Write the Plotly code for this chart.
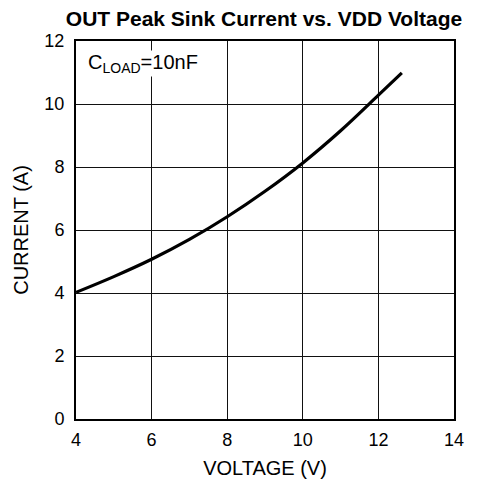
import plotly.graph_objects as go

voltage = [4, 5, 6, 7, 8, 9, 10, 11, 12, 12.62]
current = [4.02, 4.52, 5.07, 5.70, 6.42, 7.23, 8.13, 9.15, 10.28, 10.99]

x_ticks = [4, 6, 8, 10, 12, 14]
y_ticks = [0, 2, 4, 6, 8, 10, 12]

FONT = "Arial, Liberation Sans, sans-serif"

# the page body has a default 8px margin; size the figure so it sits inside the window
W, H = 461, 471

fig = go.Figure()
fig.add_trace(go.Scatter(x=voltage, y=current, mode="lines",
                         line=dict(color="black", width=3.2, shape="spline", smoothing=1.0),
                         showlegend=False, hoverinfo="skip"))

axis_common = dict(showgrid=True, gridcolor="#111", gridwidth=1.2,
                   showline=True, linecolor="black", linewidth=2, mirror=True,
                   zeroline=False, ticks="", automargin=False,
                   tickfont=dict(family=FONT, size=18, color="black"),
                   title_font=dict(family=FONT, size=20, color="black"))

fig.update_xaxes(range=[4, 14], tickvals=x_ticks, title_text="VOLTAGE (V)",
                 ticklabelstandoff=3, title_standoff=14, **axis_common)
fig.update_yaxes(range=[0, 12], tickvals=y_ticks, title_text="CURRENT (A)",
                 ticklabelstandoff=6, title_standoff=10, **axis_common)

fig.add_annotation(x=4.28, y=11.3, xref="x", yref="y", xanchor="left", yanchor="middle",
                   text="C<sub>LOAD</sub>=10nF", showarrow=False, bgcolor="white",
                   borderpad=0,
                   font=dict(family=FONT, size=20, color="black"))

fig.update_layout(
    width=W, height=H,
    margin=dict(l=68, r=15, t=33, b=60),
    paper_bgcolor="white", plot_bgcolor="white",
    title=dict(text="<b>OUT Peak Sink Current vs. VDD Voltage</b>", x=256 / W, xanchor="center",
               y=1 - 11 / H, yanchor="middle",
               font=dict(family=FONT, size=21, color="black")),
)

fig.write_html("out.html")
